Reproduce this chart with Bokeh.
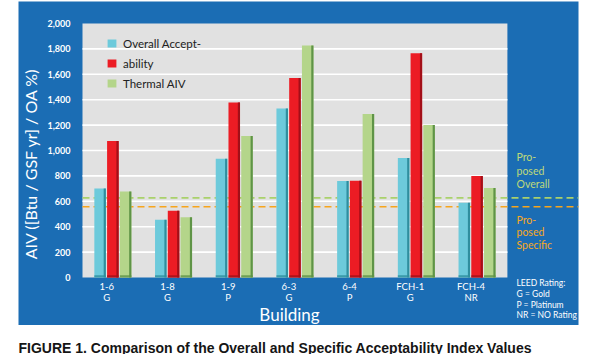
import numpy as np
from bokeh.plotting import figure
from bokeh.models import Range1d
from bokeh.embed import file_html
from bokeh.resources import INLINE
from bokeh.core.properties import value

# ---- data ----
buildings = ["1-6", "1-8", "1-9", "6-3", "6-4", "FCH-1", "FCH-4"]
ratings = ["G", "G", "P", "G", "P", "G", "NR"]
overall_accept = [700, 455, 935, 1330, 760, 940, 588]
ability = [1075, 525, 1378, 1570, 762, 1766, 800]
thermal_aiv = [678, 475, 1115, 1827, 1287, 1200, 705]
series_names = ["Overall Accept-", "ability", "Thermal AIV"]
proposed_overall = 627
proposed_specific = 557
y_ticks = list(range(0, 2001, 200))
y_title = "AIV ([Btu / GSF yr] / OA %)"
x_title = "Building"
note_overall = ["Pro-", "posed", "Overall"]
note_specific = ["Pro-", "posed", "Specific"]
note_leed = ["LEED Rating:", "G = Gold", "P = Platinum", "NR = NO Rating"]
caption = "FIGURE 1. Comparison of the Overall and Specific Acceptability Index Values"

# ---- styles ----
BLUE = "#1b6db4"
GRAY = "#e1e1e1"
FILLS = ["#6dcadb", "#ec1c24", "#b4d58a"]
DARKS = ["#2f8e9e", "#a30f18", "#5f9447"]
FONT = "Lato"
UNIT = 60.7          # pixels per category
PX_PER_VAL = 254.0 / 2000.0
OFF = 1              # observed page offset of the figure

def X(px):
    """page pixel x -> data x"""
    return (px - 83) / UNIT

def Y(py):
    """page pixel y -> data y"""
    return (278 - py) / PX_PER_VAL

n = len(buildings)
W, H = 584, 354
p = figure(width=W, height=H, x_range=Range1d(X(OFF), X(OFF + W)), y_range=Range1d(Y(OFF + H), Y(OFF)),
           output_backend="svg", toolbar_location=None, min_border=0,
           x_axis_type=None, y_axis_type=None,
           background_fill_color="white", border_fill_color="white", outline_line_color=None)

# blue panel
p.quad(left=[X(19)], right=[X(579)], bottom=[Y(325.5)], top=[Y(2)], fill_color=BLUE, line_color=None)
# gray plotting area
p.quad(left=[0], right=[n], bottom=[y_ticks[0]], top=[y_ticks[-1]], fill_color=GRAY, line_color=None)
# grid lines
gy = y_ticks[1:-1]
p.segment(x0=[0] * len(gy), x1=[n] * len(gy), y0=gy, y1=gy, line_color="white", line_width=1.6)
# proposed lines
p.segment(x0=[0], x1=[X(579)], y0=[proposed_overall], y1=[proposed_overall],
          line_color="#a9d16b", line_width=1.6, line_dash="7 4")
p.segment(x0=[0], x1=[X(579)], y0=[proposed_specific], y1=[proposed_specific],
          line_color="#f7a51c", line_width=1.6, line_dash="7 4")

centers = np.arange(n) + 0.5
bw = 0.19
for k, (vals, fc, dc, name) in enumerate(zip([overall_accept, ability, thermal_aiv], FILLS, DARKS, series_names)):
    xs = centers + (k - 1) * 0.21
    p.vbar(x=xs, top=vals, width=bw, fill_color=fc, line_color=None, legend_label=name)
    p.vbar(x=xs + bw / 2 - 0.018, top=vals, width=0.036, fill_color=dc, line_color=None)
    p.vbar(x=xs, bottom=0, top=[18] * n, width=bw, fill_color=dc, line_color=None, fill_alpha=0.8)

lg = p.legend[0]
lg.location = (107 - OFF, OFF + H - 94)
lg.margin = 0
lg.padding = 0
lg.spacing = 0
lg.label_height = 20
lg.glyph_height = 10
lg.glyph_width = 11
lg.label_standoff = 6
lg.background_fill_alpha = 0
lg.border_line_alpha = 0
lg.label_text_font = FONT
lg.label_text_font_size = "11.5px"
lg.label_text_color = "#222222"

# y tick labels
p.text(x=[X(71)] * len(y_ticks), y=y_ticks, text=[f"{v:,}" for v in y_ticks],
       text_align="right", text_baseline="middle", text_color="white",
       text_font=value(FONT), text_font_size="9px", text_font_style="bold")
# y title
p.text(x=[X(31)], y=[Y(164)], text=[y_title], angle=np.pi / 2, text_align="center",
       text_baseline="middle", text_color="white", text_font=value(FONT), text_font_size="16px")

# x tick labels
p.text(x=centers - 0.1, y=[Y(287)] * n, text=buildings, text_align="center", text_baseline="middle",
       text_color="white", text_font=value(FONT), text_font_size="9.5px")
p.text(x=centers - 0.1, y=[Y(298)] * n, text=ratings, text_align="center", text_baseline="middle",
       text_color="white", text_font=value(FONT), text_font_size="9.5px")
# x title
p.text(x=[X(290)], y=[Y(315)], text=[x_title], text_align="center", text_baseline="middle",
       text_color="white", text_font=value(FONT), text_font_size="17px")

# right-hand notes
p.text(x=[X(517)] * 3, y=[Y(v) for v in (157, 171, 184)], text=note_overall, text_baseline="middle",
       text_color="#bfd97a", text_font=value(FONT), text_font_size="10.5px")
p.text(x=[X(517)] * 3, y=[Y(v) for v in (220, 232, 245)], text=note_specific, text_baseline="middle",
       text_color="#f7a823", text_font=value(FONT), text_font_size="10.5px")
p.text(x=[X(517)] * 4, y=[Y(v) for v in (283, 294, 305, 315)], text=note_leed, text_baseline="middle",
       text_color="white", text_font=value(FONT), text_font_size="8.5px")

# caption
p.text(x=[X(19)], y=[Y(348)], text=[caption], text_font=value("Liberation Sans"), text_font_size="14px",
       text_font_style="bold", text_color="#151515", text_baseline="alphabetic")

open("out.html", "w").write(file_html(p, INLINE))
